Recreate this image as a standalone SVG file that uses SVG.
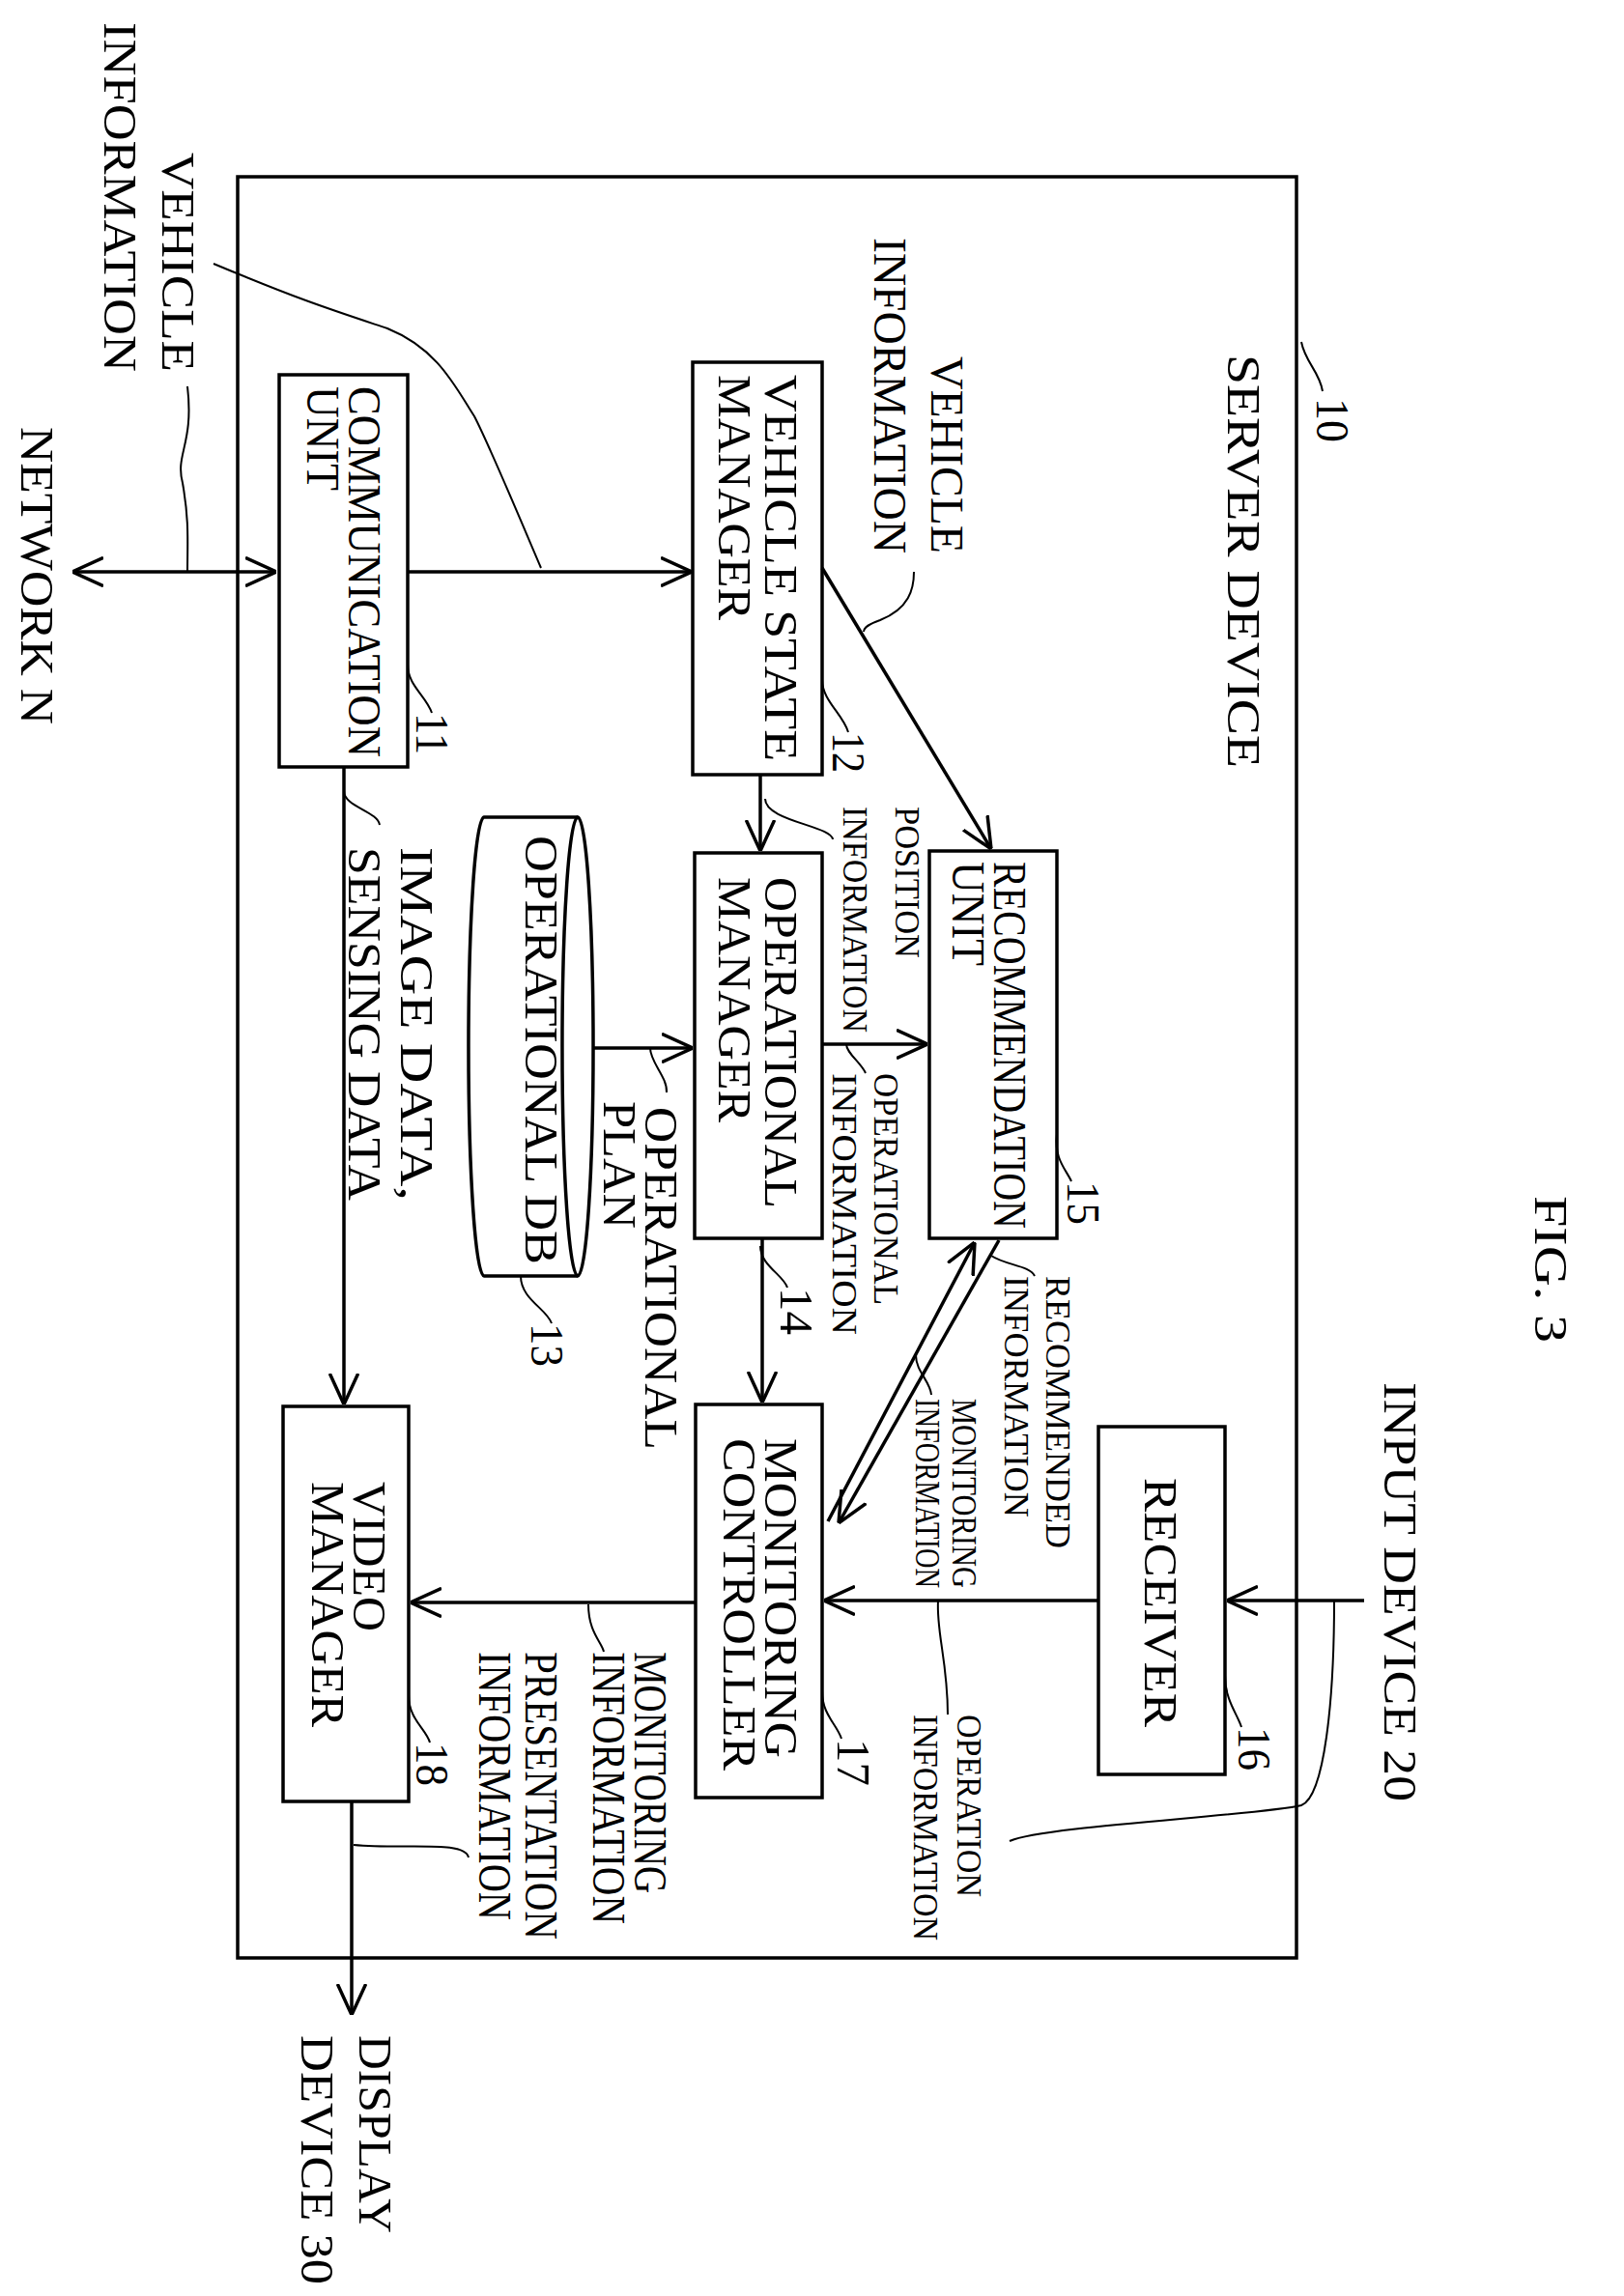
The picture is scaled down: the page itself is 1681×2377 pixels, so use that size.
<svg xmlns="http://www.w3.org/2000/svg" width="1681" height="2377" viewBox="0 0 1681 2377">
<style>
.b{fill:none;stroke:#000;stroke-width:3.5}
.a{fill:none;stroke:#000;stroke-width:3.5;marker-end:url(#ah)}
.l{fill:none;stroke:#000;stroke-width:2}
text{font-family:"Liberation Serif",serif;fill:#000}
.t{font-size:48px}
.s{font-size:36px}
</style>
<defs>
<marker id="ah" viewBox="0 0 12 12" markerWidth="32" markerHeight="32" refX="12" refY="6" orient="auto-start-reverse" markerUnits="userSpaceOnUse"><path d="M0,0.5 L12,6 L0,11.5" fill="none" stroke="#000" stroke-width="1.3"/></marker>
</defs>
<rect width="1681" height="2377" fill="#fff"/>
<g transform="translate(1681,0) rotate(90)">
<text class="t" x="1238" y="92" font-size="60" textLength="152" lengthAdjust="spacingAndGlyphs">FIG. 3</text>
<g id="n10">
<rect class="b" x="183" y="339" width="1844" height="1096"/>
<text class="t" x="367" y="410" textLength="428" lengthAdjust="spacingAndGlyphs">SERVER DEVICE</text>
<text class="t" x="412" y="318" textLength="46" lengthAdjust="spacingAndGlyphs">10</text>
<path class="l" d="M354,334 C375,330 385,315 405,312"/>
</g>
<g id="n11">
<rect class="b" x="388" y="1259" width="406" height="133"/>
<text class="t" x="400" y="1320" textLength="384" lengthAdjust="spacingAndGlyphs">COMMUNICATION</text>
<text class="t" x="400" y="1363" textLength="108" lengthAdjust="spacingAndGlyphs">UNIT</text>
<text class="t" x="738" y="1250" textLength="43" lengthAdjust="spacingAndGlyphs">11</text>
<path class="l" d="M688,1259 C710,1259 720,1240 738,1234"/>
</g>
<g id="n12">
<rect class="b" x="375" y="830" width="427" height="134"/>
<text class="t" x="388" y="889" textLength="400" lengthAdjust="spacingAndGlyphs">VEHICLE STATE</text>
<text class="t" x="388" y="937" textLength="254" lengthAdjust="spacingAndGlyphs">MANAGER</text>
<text class="t" x="758" y="819" textLength="42" lengthAdjust="spacingAndGlyphs">12</text>
<path class="l" d="M704,830 C725,830 740,808 758,803"/>
</g>
<g id="n13">
<path class="b" d="M846,1083 A237,16 0 0 1 1321,1083 L1321,1180 A237,16 0 0 1 846,1180 Z"/>
<path class="b" d="M846,1083 A237,16 0 0 0 1321,1083"/>
<text class="t" x="865" y="1137" textLength="444" lengthAdjust="spacingAndGlyphs">OPERATIONAL DB</text>
<text class="t" x="1370" y="1131" textLength="45" lengthAdjust="spacingAndGlyphs">13</text>
<path class="l" d="M1321,1142 C1345,1142 1355,1115 1370,1110"/>
</g>
<g id="n14">
<rect class="b" x="883" y="830" width="399" height="132"/>
<text class="t" x="908" y="889" textLength="343" lengthAdjust="spacingAndGlyphs">OPERATIONAL</text>
<text class="t" x="908" y="937" textLength="254" lengthAdjust="spacingAndGlyphs">MANAGER</text>
<text class="t" x="1333" y="873" textLength="49" lengthAdjust="spacingAndGlyphs">14</text>
<path class="l" d="M1290,894 C1310,894 1320,870 1333,866"/>
</g>
<g id="n15">
<rect class="b" x="881" y="587" width="401" height="132"/>
<text class="t" x="892" y="652" textLength="380" lengthAdjust="spacingAndGlyphs">RECOMMENDATION</text>
<text class="t" x="892" y="695" textLength="108" lengthAdjust="spacingAndGlyphs">UNIT</text>
<text class="t" x="1223" y="576" textLength="45" lengthAdjust="spacingAndGlyphs">15</text>
<path class="l" d="M1174,587 C1200,590 1210,578 1223,572"/>
</g>
<g id="n16">
<rect class="b" x="1477" y="413" width="360" height="131"/>
<text class="t" x="1530" y="496" textLength="258" lengthAdjust="spacingAndGlyphs">RECEIVER</text>
<text class="t" x="1788" y="399" textLength="45" lengthAdjust="spacingAndGlyphs">16</text>
<path class="l" d="M1735,413 C1760,413 1775,400 1788,396"/>
</g>
<g id="n17">
<rect class="b" x="1454" y="830" width="407" height="131"/>
<text class="t" x="1489" y="889" textLength="331" lengthAdjust="spacingAndGlyphs">MONITORING</text>
<text class="t" x="1489" y="932" textLength="344" lengthAdjust="spacingAndGlyphs">CONTROLLER</text>
<text class="t" x="1800" y="814" textLength="49" lengthAdjust="spacingAndGlyphs">17</text>
<path class="l" d="M1751,830 C1775,830 1785,815 1800,810"/>
</g>
<g id="n18">
<rect class="b" x="1456" y="1258" width="409" height="130"/>
<text class="t" x="1534" y="1315" textLength="155" lengthAdjust="spacingAndGlyphs">VIDEO</text>
<text class="t" x="1534" y="1358" textLength="254" lengthAdjust="spacingAndGlyphs">MANAGER</text>
<text class="t" x="1804" y="1250" textLength="45" lengthAdjust="spacingAndGlyphs">18</text>
<path class="l" d="M1755,1258 C1780,1258 1790,1240 1804,1236"/>
</g>
<g id="ext">
<text class="t" x="158" y="1513" textLength="227" lengthAdjust="spacingAndGlyphs">VEHICLE</text>
<text class="t" x="23" y="1573" textLength="362" lengthAdjust="spacingAndGlyphs">INFORMATION</text>
<text class="t" x="442" y="1659" textLength="308" lengthAdjust="spacingAndGlyphs">NETWORK N</text>
<text class="t" x="1431" y="248" textLength="434" lengthAdjust="spacingAndGlyphs">INPUT DEVICE 20</text>
<text class="t" x="2107" y="1309" textLength="205" lengthAdjust="spacingAndGlyphs">DISPLAY</text>
<text class="t" x="2107" y="1369" textLength="258" lengthAdjust="spacingAndGlyphs">DEVICE 30</text>
</g>
<g id="labels">
<text class="t" x="369" y="717" textLength="204" lengthAdjust="spacingAndGlyphs">VEHICLE</text>
<text class="t" x="246" y="776" textLength="327" lengthAdjust="spacingAndGlyphs">INFORMATION</text>
<text class="s" x="835" y="754" textLength="157" lengthAdjust="spacingAndGlyphs">POSITION</text>
<text class="s" x="835" y="808" textLength="234" lengthAdjust="spacingAndGlyphs">INFORMATION</text>
<text class="t" x="1146" y="1013" textLength="355" lengthAdjust="spacingAndGlyphs">OPERATIONAL</text>
<text class="t" x="1140" y="1056" textLength="132" lengthAdjust="spacingAndGlyphs">PLAN</text>
<text class="s" x="1111" y="776" textLength="240" lengthAdjust="spacingAndGlyphs">OPERATIONAL</text>
<text class="s" x="1111" y="819" textLength="271" lengthAdjust="spacingAndGlyphs">INFORMATION</text>
<text class="s" x="1321" y="598" textLength="282" lengthAdjust="spacingAndGlyphs">RECOMMENDED</text>
<text class="s" x="1321" y="641" textLength="250" lengthAdjust="spacingAndGlyphs">INFORMATION</text>
<text class="s" x="1448" y="695" textLength="196" lengthAdjust="spacingAndGlyphs">MONITORING</text>
<text class="s" x="1448" y="733" textLength="196" lengthAdjust="spacingAndGlyphs">INFORMATION</text>
<text class="s" x="1775" y="690" textLength="189" lengthAdjust="spacingAndGlyphs">OPERATION</text>
<text class="s" x="1775" y="735" textLength="234" lengthAdjust="spacingAndGlyphs">INFORMATION</text>
<text class="t" x="1710" y="1024" textLength="250" lengthAdjust="spacingAndGlyphs">MONITORING</text>
<text class="t" x="1710" y="1067" textLength="282" lengthAdjust="spacingAndGlyphs">INFORMATION</text>
<text class="t" x="1710" y="1137" textLength="298" lengthAdjust="spacingAndGlyphs">PRESENTATION</text>
<text class="t" x="1710" y="1185" textLength="278" lengthAdjust="spacingAndGlyphs">INFORMATION</text>
<text class="t" x="877" y="1266" textLength="366" lengthAdjust="spacingAndGlyphs">IMAGE DATA,</text>
<text class="t" x="877" y="1320" textLength="366" lengthAdjust="spacingAndGlyphs">SENSING DATA</text>
</g>
<g id="connectors">
<line class="a" x1="592" y1="1395" x2="592" y2="1606" style="marker-start:url(#ah)"/>
<line class="a" x1="592" y1="1259" x2="592" y2="965"/>
<line class="a" x1="588" y1="830" x2="879" y2="655"/>
<line class="a" x1="802" y1="894" x2="881" y2="894"/>
<line class="a" x1="1085" y1="1067" x2="1085" y2="964"/>
<line class="a" x1="1081" y1="830" x2="1081" y2="721"/>
<line class="a" x1="1282" y1="892" x2="1452" y2="892"/>
<line class="a" x1="1284" y1="647" x2="1577" y2="813"/>
<line class="a" x1="1575" y1="824" x2="1286" y2="672"/>
<line class="a" x1="1657" y1="269" x2="1657" y2="411"/>
<line class="a" x1="1657" y1="544" x2="1657" y2="828"/>
<line class="a" x1="1659" y1="961" x2="1659" y2="1256"/>
<line class="a" x1="794" y1="1325" x2="1454" y2="1325"/>
<line class="a" x1="1865" y1="1317" x2="2086" y2="1317"/>
<path class="l" d="M400,1487 C460,1480 470,1500 500,1492 C540,1485 560,1487 592,1487"/>
<path class="l" d="M588,1121 C520,1150 460,1175 431,1190 C400,1210 361,1228 340,1280 C320,1340 311,1369 273,1460"/>
<path class="l" d="M592,735 C610,735 630,740 642,770 C648,787 652,787 654,787"/>
<path class="l" d="M827,889 C850,889 855,820 869,819"/>
<path class="l" d="M1085,1008 C1100,1008 1115,990 1131,991"/>
<path class="l" d="M1081,805 C1090,805 1100,790 1111,785"/>
<path class="l" d="M1300,655 C1310,640 1310,615 1321,610"/>
<path class="l" d="M1403,733 C1420,733 1430,718 1444,717"/>
<path class="l" d="M1657,300 C1760,300 1860,310 1869,334 C1880,380 1890,600 1906,636"/>
<path class="l" d="M1657,710 C1690,712 1720,700 1775,700"/>
<path class="l" d="M1661,1072 C1690,1072 1700,1058 1710,1056"/>
<path class="l" d="M1910,1315 C1915,1260 1905,1200 1923,1196"/>
<path class="l" d="M819,1325 C835,1325 840,1290 854,1288"/>
</g>
</g>
</svg>
